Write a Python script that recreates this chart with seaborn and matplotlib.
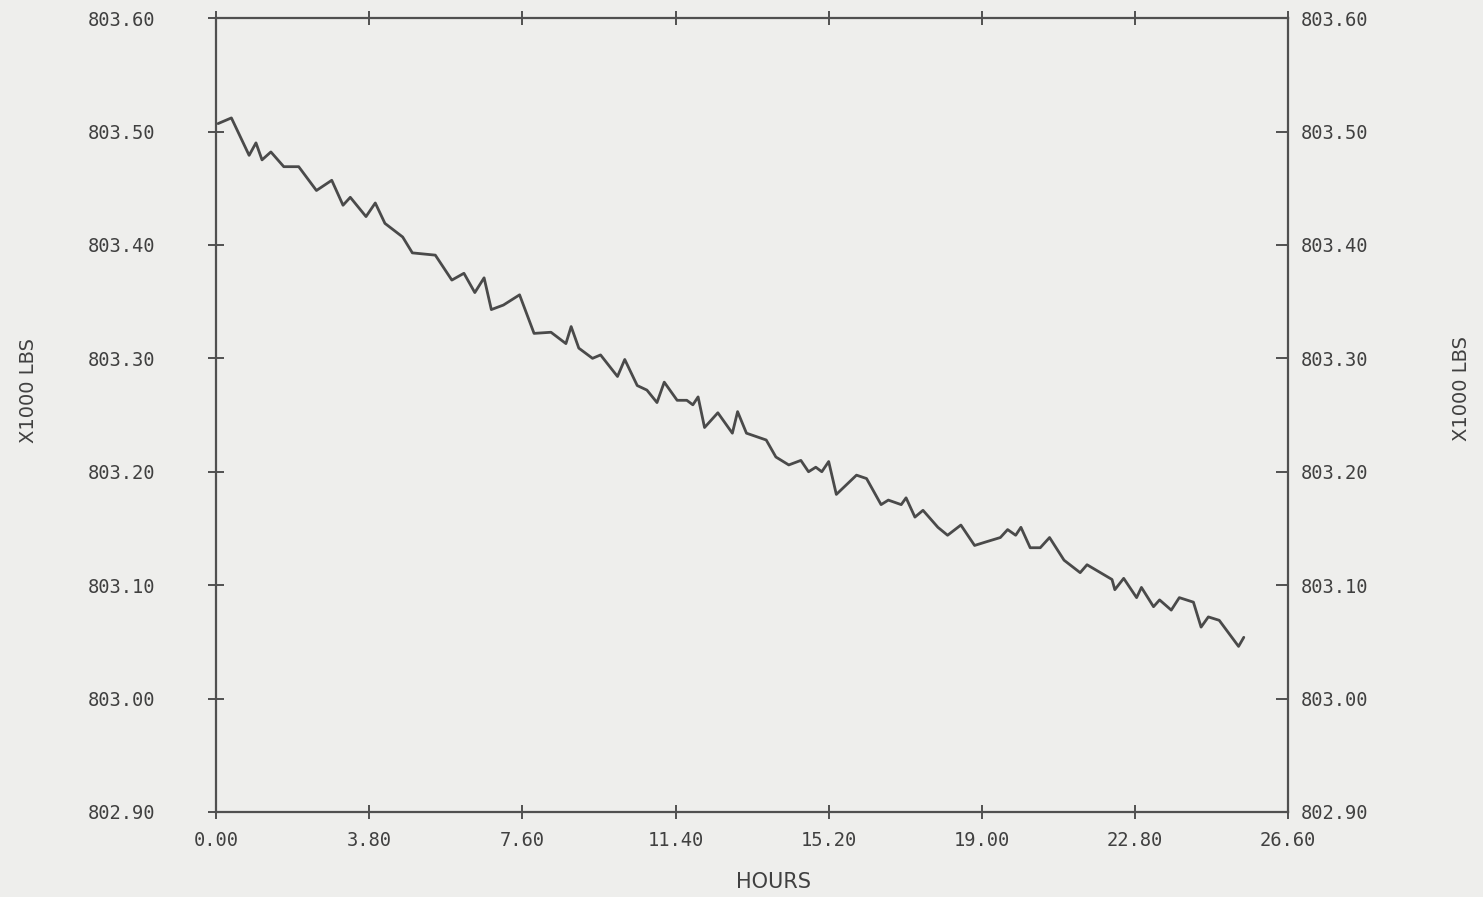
import pandas as pd
import seaborn as sns
import matplotlib.pyplot as plt

# trace (hours, weight in x1000 lbs)
hours = [0.05, 0.38, 0.82, 0.99, 1.14, 1.36, 1.68, 2.05, 2.49, 2.87,
         3.15, 3.33, 3.72, 3.95, 4.19, 4.63, 4.87, 5.44, 5.85, 6.15,
         6.42, 6.65, 6.83, 7.13, 7.53, 7.89, 8.31, 8.68, 8.81, 9.00,
         9.34, 9.54, 9.96, 10.14, 10.45, 10.69, 10.94, 11.12, 11.44, 11.68,
         11.83, 11.96, 12.12, 12.45, 12.81, 12.94, 13.16, 13.65, 13.89, 14.21,
         14.51, 14.70, 14.88, 15.03, 15.20, 15.39, 15.89, 16.14, 16.50, 16.68,
         17.00, 17.12, 17.34, 17.54, 17.91, 18.15, 18.48, 18.82, 19.09, 19.46,
         19.64, 19.84, 19.97, 20.20, 20.45, 20.68, 21.04, 21.44, 21.61, 22.23,
         22.30, 22.52, 22.84, 22.96, 23.26, 23.41, 23.70, 23.90, 24.25, 24.44,
         24.62, 24.89, 25.37, 25.50]
weight = [803.507, 803.512, 803.479, 803.490, 803.475, 803.482, 803.469, 803.469, 803.448, 803.457,
          803.435, 803.442, 803.425, 803.437, 803.419, 803.407, 803.393, 803.391, 803.369, 803.375,
          803.358, 803.371, 803.343, 803.347, 803.356, 803.322, 803.323, 803.313, 803.328, 803.309,
          803.300, 803.303, 803.284, 803.299, 803.276, 803.272, 803.261, 803.279, 803.263, 803.263,
          803.259, 803.266, 803.239, 803.252, 803.234, 803.253, 803.234, 803.228, 803.213, 803.206,
          803.210, 803.200, 803.204, 803.200, 803.209, 803.180, 803.197, 803.194, 803.171, 803.175,
          803.171, 803.177, 803.160, 803.166, 803.151, 803.144, 803.153, 803.135, 803.138, 803.142,
          803.149, 803.144, 803.151, 803.133, 803.133, 803.142, 803.122, 803.111, 803.118, 803.105,
          803.096, 803.106, 803.089, 803.098, 803.081, 803.087, 803.078, 803.089, 803.085, 803.063,
          803.072, 803.069, 803.046, 803.054]

x_ticks = [0.00, 3.80, 7.60, 11.40, 15.20, 19.00, 22.80, 26.60]
y_ticks = [802.90, 803.00, 803.10, 803.20, 803.30, 803.40, 803.50, 803.60]

df = pd.DataFrame({"hours": hours, "weight": weight})

sns.set_theme(style="white")
paper = "#eeeeec"
ink = "#404040"
plt.rcParams["font.family"] = ["DejaVu Sans"]

fig = plt.figure(figsize=(14.83, 8.97), dpi=100, facecolor=paper)
ax = fig.add_axes([0.1457, 0.0948, 0.7229, 0.885])
ax.set_facecolor(paper)

sns.lineplot(data=df, x="hours", y="weight", ax=ax, color="#4a4a4a", linewidth=2.0)

ax.set_xlim(0, 26.6)
ax.set_ylim(802.9, 803.6)
ax.set_xticks(x_ticks)
ax.set_xticklabels([f"{t:.2f}" for t in x_ticks], family="DejaVu Sans Mono", fontsize=13.5, color=ink)
ax.set_yticks(y_ticks)
ax.set_yticklabels([f"{t:.2f}" for t in y_ticks], family="DejaVu Sans Mono", fontsize=13.5, color=ink)

for s in ax.spines.values():
    s.set_color("#505050")
    s.set_linewidth(1.6)

ax.tick_params(axis="x", which="major", direction="inout", length=10, width=1.4,
               color="#505050", top=True, bottom=True, pad=9)
ax.tick_params(axis="y", which="major", direction="inout", length=12, width=1.4,
               color="#505050", left=True, right=False, pad=38)

ax2 = ax.twinx()
ax2.set_ylim(802.9, 803.6)
ax2.set_yticks(y_ticks)
ax2.set_yticklabels([f"{t:.2f}" for t in y_ticks], family="DejaVu Sans Mono", fontsize=13.5, color=ink)
ax2.tick_params(axis="y", direction="in", length=9, width=1.4, color="#505050", pad=9)
for s in ax2.spines.values():
    s.set_visible(False)

ax.set_xlabel("HOURS", fontsize=15, color=ink)
ax.xaxis.set_label_coords(0.520, -0.076)
ax.set_ylabel("X1000 LBS", fontsize=14, color=ink)
ax.yaxis.set_label_coords(-0.166, 0.531)
ax2.set_ylabel("X1000 LBS", fontsize=14, color=ink, rotation=90)
ax2.yaxis.set_label_coords(1.153, 0.534)

fig.savefig("out.png", dpi=100, facecolor=paper)
